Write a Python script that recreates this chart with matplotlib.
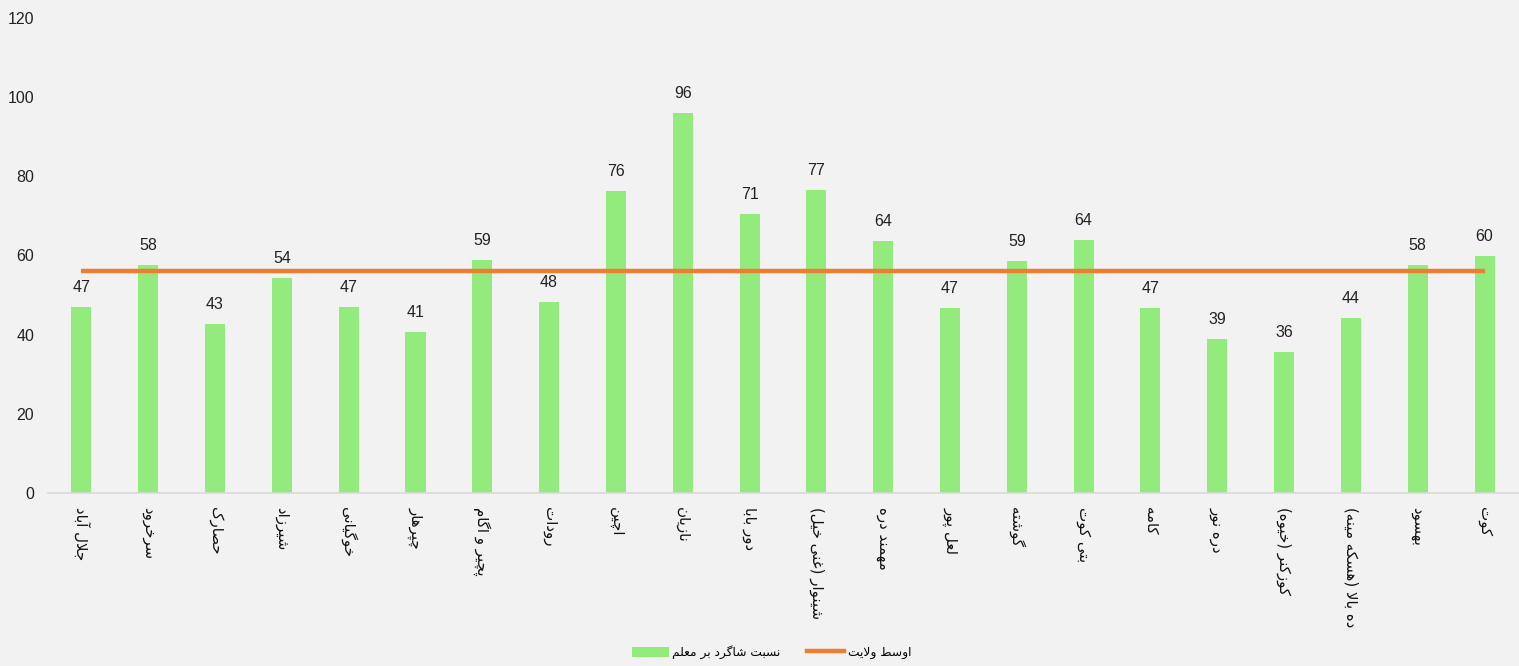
import matplotlib
matplotlib.use("Agg")
import matplotlib.pyplot as plt
import numpy as np
from matplotlib.lines import Line2D
from matplotlib.patches import Patch

# ---------------- data ----------------
districts = [
    "جلال آباد", "سرخرود", "حصارک", "شیرزاد", "خوگیانی", "چپرهار",
    "پچیر و اگام", "رودات", "اچین", "نازیان", "دور بابا", "شینوار (غنی خیل)",
    "مهمند دره", "لعل پور", "گوشته", "بتی کوت", "کامه", "دره نور",
    "کوزکنر (خیوه)", "ده بالا (هسکه مینه)", "بهسود", "کوت",
]
ratio = [47.0, 57.7, 42.7, 54.3, 47.0, 40.7, 58.8, 48.3, 76.3, 96.0, 70.6,
         76.6, 63.6, 46.7, 58.6, 63.9, 46.7, 38.9, 35.6, 44.2, 57.6, 59.8]
province_avg = 56.1
series_names = ["نسبت شاگرد بر معلم", "اوسط ولایت"]
yticks = [0, 20, 40, 60, 80, 100, 120]

# ---------------- minimal Arabic/Persian shaping ----------------
DUAL = {
    "ب": (0xFE8F, 0xFE90, 0xFE91, 0xFE92), "پ": (0xFB56, 0xFB57, 0xFB58, 0xFB59),
    "ت": (0xFE95, 0xFE96, 0xFE97, 0xFE98), "ث": (0xFE99, 0xFE9A, 0xFE9B, 0xFE9C),
    "ج": (0xFE9D, 0xFE9E, 0xFE9F, 0xFEA0), "چ": (0xFB7A, 0xFB7B, 0xFB7C, 0xFB7D),
    "ح": (0xFEA1, 0xFEA2, 0xFEA3, 0xFEA4), "خ": (0xFEA5, 0xFEA6, 0xFEA7, 0xFEA8),
    "س": (0xFEB1, 0xFEB2, 0xFEB3, 0xFEB4), "ش": (0xFEB5, 0xFEB6, 0xFEB7, 0xFEB8),
    "ص": (0xFEB9, 0xFEBA, 0xFEBB, 0xFEBC), "ض": (0xFEBD, 0xFEBE, 0xFEBF, 0xFEC0),
    "ط": (0xFEC1, 0xFEC2, 0xFEC3, 0xFEC4), "ظ": (0xFEC5, 0xFEC6, 0xFEC7, 0xFEC8),
    "ع": (0xFEC9, 0xFECA, 0xFECB, 0xFECC), "غ": (0xFECD, 0xFECE, 0xFECF, 0xFED0),
    "ف": (0xFED1, 0xFED2, 0xFED3, 0xFED4), "ق": (0xFED5, 0xFED6, 0xFED7, 0xFED8),
    "ک": (0xFB8E, 0xFB8F, 0xFB90, 0xFB91), "ك": (0xFED9, 0xFEDA, 0xFEDB, 0xFEDC),
    "گ": (0xFB92, 0xFB93, 0xFB94, 0xFB95), "ل": (0xFEDD, 0xFEDE, 0xFEDF, 0xFEE0),
    "م": (0xFEE1, 0xFEE2, 0xFEE3, 0xFEE4), "ن": (0xFEE5, 0xFEE6, 0xFEE7, 0xFEE8),
    "ه": (0xFEE9, 0xFEEA, 0xFEEB, 0xFEEC), "ی": (0xFBFC, 0xFBFD, 0xFBFE, 0xFBFF),
    "ي": (0xFEF1, 0xFEF2, 0xFEF3, 0xFEF4),
}
RIGHT = {
    "ا": (0xFE8D, 0xFE8E), "آ": (0xFE81, 0xFE82), "د": (0xFEA9, 0xFEAA),
    "ذ": (0xFEAB, 0xFEAC), "ر": (0xFEAD, 0xFEAE), "ز": (0xFEAF, 0xFEB0),
    "ژ": (0xFB8A, 0xFB8B), "و": (0xFEED, 0xFEEE), "ة": (0xFE93, 0xFE94),
}
LAMALEF = {"ا": (0xFEFB, 0xFEFC), "آ": (0xFEF5, 0xFEF6)}


def joins(c):
    return c in DUAL or c in RIGHT


def shape(text):
    out = []
    n = len(text)
    i = 0
    while i < n:
        c = text[i]
        prev = text[i - 1] if i > 0 else ""
        cp = prev in DUAL and joins(c)
        if c == "ل" and i + 1 < n and text[i + 1] in LAMALEF:
            iso, fin = LAMALEF[text[i + 1]]
            out.append(chr(fin if cp else iso))
            i += 2
            continue
        nxt = text[i + 1] if i + 1 < n else ""
        if c in DUAL:
            cn = joins(nxt)
            iso, fin, ini, med = DUAL[c]
            f = med if (cp and cn) else fin if cp else ini if cn else iso
            out.append(chr(f))
        elif c in RIGHT:
            iso, fin = RIGHT[c]
            out.append(chr(fin if cp else iso))
        else:
            out.append(c)
        i += 1
    vis = "".join(reversed(out))
    return vis.translate(str.maketrans({"(": ")", ")": "("}))


# ---------------- plot ----------------
BG = "#F2F2F2"
GREEN = "#92EB7C"
ORANGE = "#ED7D31"
NUMFONT = ["Liberation Sans Narrow", "Liberation Sans", "DejaVu Sans"]

fig = plt.figure(figsize=(15.19, 6.66), dpi=100, facecolor=BG)
ax = fig.add_axes([0.0316, 0.2598, 0.9677, 0.7132])
ax.set_facecolor(BG)

x = np.arange(len(districts))
bars = ax.bar(x, ratio, width=0.30, color=GREEN, zorder=2)
ax.plot([x[0], x[-1]], [province_avg, province_avg], color=ORANGE, lw=3.2,
        solid_capstyle="butt", zorder=3)

for xi, v in zip(x, ratio):
    ax.annotate(f"{int(round(v))}", (xi, v), xytext=(0, 8.5), textcoords="offset points",
                ha="center", va="bottom", fontsize=11.5, family=NUMFONT, color="#222222")

ax.set_xlim(-0.5, len(districts) - 0.5)
ax.set_ylim(0, 120)
ax.set_yticks(yticks)
ax.set_yticklabels([str(t) for t in yticks], fontsize=11.5, family=NUMFONT, color="#222222")
ax.set_xticks(x)
ax.set_xticklabels([shape(d) for d in districts], rotation=270, fontsize=10.8,
                   family=["DejaVu Sans"], color="#111111", ha="center", va="top")
ax.tick_params(axis="both", length=0)
ax.tick_params(axis="y", pad=10)
ax.tick_params(axis="x", pad=10)
for s in ["top", "right", "left"]:
    ax.spines[s].set_visible(False)
ax.spines["bottom"].set_color("#D9D9D9")
ax.spines["bottom"].set_linewidth(1.2)

handles = [Patch(facecolor=GREEN, edgecolor="none"),
           Line2D([0], [0], color=ORANGE, lw=3.2)]
leg = fig.legend(handles, [shape(s) for s in series_names], loc="center",
                 bbox_to_anchor=(0.508, 0.021), ncol=2, frameon=False,
                 prop={"family": "DejaVu Sans", "size": 8.8},
                 handlelength=3.0, handleheight=0.9, columnspacing=2.2, handletextpad=0.3)

fig.savefig("out.png", dpi=100, facecolor=BG)
